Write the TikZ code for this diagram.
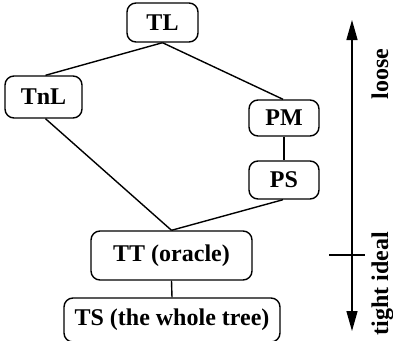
\documentclass[tikz,border=0pt]{standalone}
\usepackage{fontspec}
\setmainfont{Liberation Serif}
\usetikzlibrary{arrows.meta}
\begin{document}
\begin{tikzpicture}[x=1bp,y=-1bp,
  box/.style={draw,line width=1.4bp,rounded corners=9bp,inner sep=0pt,
    font=\fontsize{24bp}{26bp}\selectfont\bfseries},
  edge/.style={line width=1.4bp},
  lab/.style={rotate=90,inner sep=0pt,font=\fontsize{24bp}{26bp}\selectfont\bfseries}]
\useasboundingbox (0,0) rectangle (393,341);
\node[box,minimum width=71bp,minimum height=39bp] (TL) at (162.5,22.5) {TL};
\node[box,minimum width=77bp,minimum height=42bp] (TnL) at (43.5,97) {TnL};
\node[box,minimum width=70bp,minimum height=36bp] (PM) at (284,118) {PM};
\node[box,minimum width=70bp,minimum height=38bp] (PS) at (284,180) {PS};
\node[box,minimum width=161bp,minimum height=49bp] (TT) at (171.5,255.5) {TT (oracle)};
\node[box,minimum width=216bp,minimum height=44bp] (TS) at (172,320) {TS (the whole tree)};
\draw[edge] (TL.south) -- ([xshift=2bp]TnL.north);
\draw[edge] (TL.south) -- ([xshift=-1bp]PM.north);
\draw[edge] (PM.south) -- (PS.north);
\draw[edge] ([xshift=2bp]TnL.south) -- (TT.north);
\draw[edge] ([xshift=-1bp]PS.south) -- (TT.north);
\draw[edge] (TT.south) -- (TS.south |- TS.north);
\coordinate (atop) at (352,20);
\coordinate (abot) at (352,331);
\draw[line width=1.4bp,{Triangle[width=11bp,length=20bp]}-{Triangle[width=11bp,length=20bp]}] (atop) -- (abot);
\coordinate (tl) at (329,255);
\coordinate (tr) at (365,255);
\draw[line width=1.4bp] (tl) -- (tr);
\node[lab,anchor=base] (loose) at (388,74) {loose};
\node[lab,anchor=base east] (tight) at (388,232) {tight ideal};
\end{tikzpicture}
\end{document}
